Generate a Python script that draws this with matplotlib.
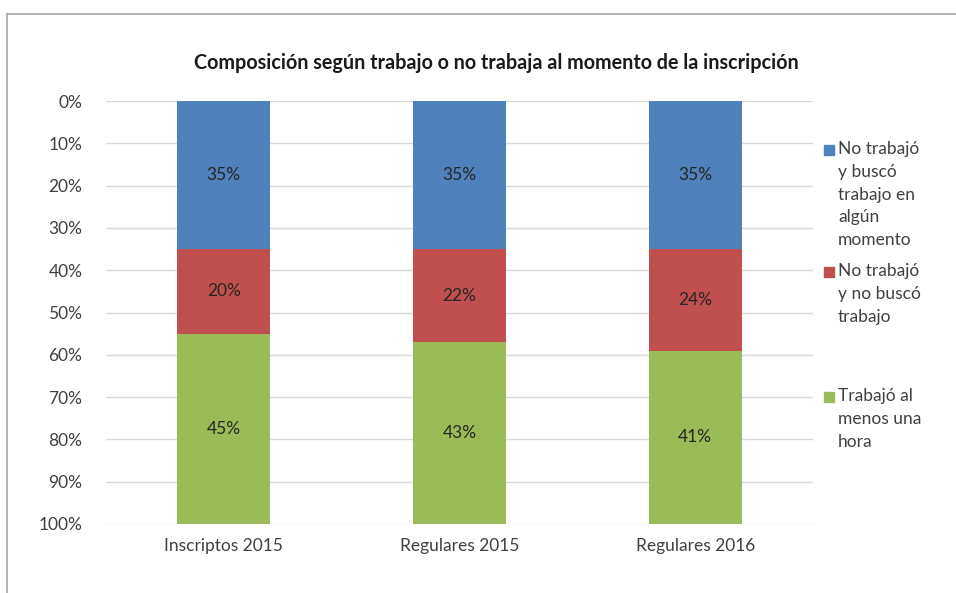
import matplotlib
matplotlib.use("Agg")
import matplotlib.pyplot as plt
from matplotlib.patches import Rectangle
from matplotlib.lines import Line2D
import numpy as np

categories = ["Inscriptos 2015", "Regulares 2015", "Regulares 2016"]
busco = [35, 35, 35]
no_busco = [20, 22, 24]
trabajo = [45, 43, 41]
series_names = [
    "No trabajó\ny buscó\ntrabajo en\nalgún\nmomento",
    "No trabajó\ny no buscó\ntrabajo",
    "Trabajó al\nmenos una\nhora",
]
colors = ["#4f81bd", "#c0504d", "#9bbb59"]
yticks = list(range(0, 101, 10))
title = "Composición según trabajo o no trabaja al momento de la inscripción"

plt.rcParams["font.family"] = ["Lato", "DejaVu Sans"]
W, H = 956, 593
fig = plt.figure(figsize=(W / 100, H / 100), dpi=100)

# outer chart frame (top and left edges)
fig.add_artist(Line2D([7 / W, 7 / W], [0, 1 - 14 / H], transform=fig.transFigure,
                      color="#a6a6a6", lw=1.2))
fig.add_artist(Line2D([7 / W, 1], [1 - 14 / H, 1 - 14 / H], transform=fig.transFigure,
                      color="#a6a6a6", lw=1.2))

left, right, top, bottom = 106, 813, 101, 524
ax = fig.add_axes([left / W, 1 - bottom / H, (right - left) / W, (bottom - top) / H])

x = np.arange(len(categories))
series = [busco, no_busco, trabajo]
base = np.zeros(len(categories))
for vals, c in zip(series, colors):
    vals = np.array(vals, dtype=float)
    ax.bar(x, vals, bottom=base, width=0.395, color=c, zorder=2)
    for xi, b, v in zip(x, base, vals):
        ax.text(xi, b + v / 2, f"{int(v)}%", ha="center", va="center",
                fontsize=12.5, color="#262626", zorder=3)
    base += vals

ax.set_xlim(-0.5, len(categories) - 0.5)
ax.set_ylim(100, 0)
ax.set_yticks(yticks)
ax.set_yticklabels([f"{t}%" for t in yticks], fontsize=12.5, color="#404040")
ax.set_xticks(x)
ax.set_xticklabels(categories, fontsize=12.5, color="#404040")
ax.tick_params(length=0, axis="y", pad=17)
ax.tick_params(length=0, axis="x", pad=10)
ax.yaxis.grid(True, color="#d9d9d9", lw=1, zorder=0)
for s in ax.spines.values():
    s.set_visible(False)

fig.text(496 / W, 1 - 63 / H, title, ha="center", va="center",
         fontsize=14.2, fontweight="bold", color="#1a1a1a")

# legend drawn by hand
leg_y = [151, 273, 398]
for name, c, yy in zip(series_names, colors, leg_y):
    fig.add_artist(Rectangle((824 / W, 1 - (yy + 4) / H), 10 / W, 10 / H,
                             transform=fig.transFigure, color=c))
    fig.text(838 / W, 1 - (yy - 10) / H, name, ha="left", va="top",
             fontsize=12.5, color="#404040", linespacing=1.52)

fig.savefig("out.png", dpi=100)
